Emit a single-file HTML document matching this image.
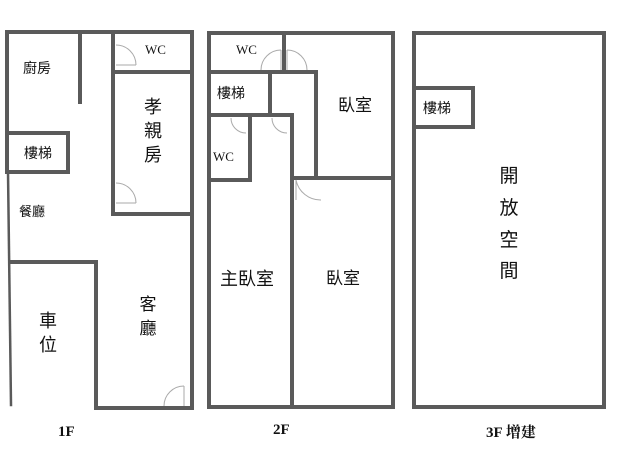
<!DOCTYPE html>
<html><head><meta charset="utf-8"><style>
html,body{margin:0;padding:0;background:#fff;}
svg{display:block;}
text{font-family:"Liberation Sans","Noto Sans CJK TC",sans-serif;fill:#111;}
.s{font-family:"Liberation Serif","Noto Serif CJK SC",serif;}
</style></head><body>
<svg width="638" height="460" viewBox="0 0 638 460" xmlns="http://www.w3.org/2000/svg">
<g stroke="#5a5a5a" stroke-width="4" fill="none" stroke-linecap="square">
<polyline points="192,32 7,32 7,172"/>
<line x1="8" y1="172" x2="11" y2="405" stroke-width="2.5"/>
<polyline points="192,32 192,408 96,408 96,262 10,262"/>
<line x1="80" y1="32" x2="80" y2="102"/>
<polyline points="7,133 68,133 68,172 7,172"/>
<polyline points="113,32 113,214 192,214"/>
<line x1="113" y1="72" x2="192" y2="72"/>
<rect x="209" y="33" width="184" height="374"/>
<line x1="284" y1="33" x2="284" y2="72"/>
<line x1="209" y1="72" x2="316" y2="72"/>
<polyline points="316,72 316,178 393,178"/>
<line x1="292" y1="178" x2="316" y2="178"/>
<line x1="270" y1="72" x2="270" y2="115"/>
<polyline points="209,115 292,115 292,407"/>
<polyline points="209,180 250,180 250,115"/>
<rect x="414" y="33" width="190" height="374"/>
<polyline points="414,88 473,88 473,127 414,127"/>
</g>
<g stroke="#aaa" stroke-width="1" fill="none">
<path d="M116,45 a20,20 0 0 1 20,20"/><line x1="116" y1="65" x2="136" y2="65"/>
<path d="M116,183 a20,20 0 0 1 20,20"/><line x1="116" y1="203" x2="136" y2="203"/>
<path d="M184,386 a20,20 0 0 0 -20,20"/><line x1="184" y1="386" x2="184" y2="406"/>
<path d="M281,50 a20,20 0 0 0 -20,20"/><line x1="281" y1="50" x2="281" y2="70"/>
<path d="M287,50 a20,20 0 0 1 20,20"/><line x1="287" y1="50" x2="287" y2="70"/>
<path d="M231,118 a15,15 0 0 0 15,15"/>
<path d="M272,118 a15,15 0 0 0 15,15"/>
<path d="M296,180 a25,25 0 0 0 25,20"/><line x1="296" y1="180" x2="296" y2="200"/>
</g>
<g font-size="14">
<text x="23" y="73">廚房</text>
<text x="24" y="158">樓梯</text>
<text x="19" y="216" font-size="13">餐廳</text>
<text x="217" y="98">樓梯</text>
<text x="423" y="113">樓梯</text>
</g>
<g class="s" font-size="13">
<text x="145" y="54" class="s">WC</text>
<text x="236" y="54" class="s">WC</text>
<text x="213" y="161" class="s">WC</text>
</g>
<g font-size="18" text-anchor="middle">
<text x="153" y="113">孝</text><text x="153" y="137">親</text><text x="153" y="161">房</text>
<text x="48" y="327">車</text><text x="48" y="351">位</text>
<text x="148" y="310" font-size="17">客</text><text x="148" y="334" font-size="17">廳</text>
<text x="355" y="111" font-size="17">臥室</text>
<text x="247" y="285" font-size="18">主臥室</text>
<text x="343" y="284" font-size="17">臥室</text>
<text x="509" y="182" font-size="19">開</text><text x="509" y="214" font-size="19">放</text>
<text x="509" y="246" font-size="19">空</text><text x="509" y="277" font-size="19">間</text>
</g>
<g class="s" font-size="15" font-weight="bold">
<text x="58" y="436" class="s">1F</text>
<text x="273" y="434" class="s">2F</text>
<text x="486" y="437" class="s">3F 增建</text>
</g>
</svg>
</body></html>
